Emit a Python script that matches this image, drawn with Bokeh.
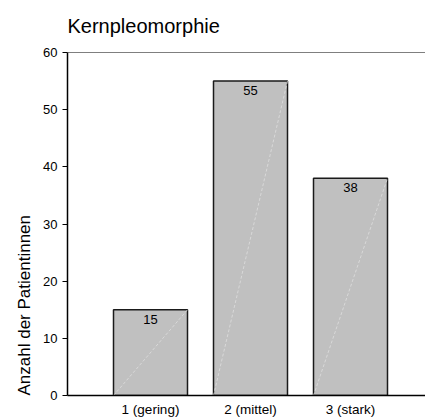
from bokeh.plotting import figure
from bokeh.models import ColumnDataSource, Range1d, FixedTicker, Span, LabelSet, Title
from bokeh.core.properties import value
from bokeh.embed import file_html
from bokeh.resources import INLINE

categories = ["1 (gering)", "2 (mittel)", "3 (stark)"]
positions = [1, 2, 3]
counts = [15, 55, 38]
y_ticks = [0, 10, 20, 30, 40, 50, 60]

FONT = "Liberation Sans"
BAR_W = 0.74
X_START, X_END = 0.17, 3.75
Y_MAX = 60

src = ColumnDataSource(dict(
    x=positions,
    top=counts,
    label=[str(c) for c in counts],
    x0=[p - BAR_W / 2 for p in positions],
    x1=[p + BAR_W / 2 for p in positions],
    y0=[0] * len(counts),
))

p = figure(width=425, height=419, output_backend="svg", toolbar_location=None,
           x_range=Range1d(X_START, X_END), y_range=Range1d(0, Y_MAX),
           min_border_left=67, min_border_right=0, min_border_top=52,
           min_border_bottom=23)

p.title.text = "Kernpleomorphie"
p.title.text_font = FONT
p.title.text_font_size = "20px"
p.title.text_font_style = "normal"
p.title.text_color = "black"
p.title.offset = 0
p.title.vertical_align = "top"
p.title.standoff = 27

# y-axis caption, starting at the bottom of the frame
p.add_layout(Title(text="Anzahl der Patientinnen", align="left", vertical_align="bottom",
                   offset=0, standoff=14, text_font=FONT, text_font_size="17px",
                   text_font_style="normal", text_color="black"), "left")

p.outline_line_color = None
p.xgrid.visible = False
p.ygrid.visible = False
p.background_fill_color = "white"
p.border_fill_color = "white"

p.vbar(x="x", top="top", width=BAR_W, source=src, fill_color="#c0c0c0",
       line_color="#1a1a1a", line_width=1.5)
# faint diagonal highlight inside each bar
p.segment(x0="x0", y0="y0", x1="x1", y1="top", source=src,
          line_color="#dedede", line_width=0.8, line_dash="3 2")

p.add_layout(LabelSet(x="x", y="top", text="label", source=src,
                      text_align="center", text_baseline="top", y_offset=-5,
                      text_font_size=value("13px"), text_font=value(FONT),
                      text_color="black"))

p.add_layout(Span(location=Y_MAX, dimension="width", line_color="black", line_width=1))

p.xaxis.ticker = FixedTicker(ticks=positions)
p.xaxis.major_label_overrides = {pos: c for pos, c in zip(positions, categories)}
p.xaxis.major_tick_line_color = None
p.xaxis.major_tick_out = 0
p.xaxis.major_tick_in = 0
p.xaxis.minor_tick_line_color = None
p.xaxis.axis_line_color = "black"
p.xaxis.axis_line_width = 1.5
p.xaxis.major_label_text_font = FONT
p.xaxis.major_label_text_font_size = "13.5px"
p.xaxis.major_label_text_color = "black"
p.xaxis.major_label_standoff = 6

p.yaxis.ticker = FixedTicker(ticks=y_ticks)
p.yaxis.minor_tick_line_color = None
p.yaxis.major_tick_out = 5
p.yaxis.major_tick_in = 0
p.yaxis.major_tick_line_color = "black"
p.yaxis.axis_line_color = "black"
p.yaxis.axis_line_width = 1.5
p.yaxis.major_label_text_font = FONT
p.yaxis.major_label_text_font_size = "13px"
p.yaxis.major_label_text_color = "black"
p.yaxis.major_label_standoff = 5

open("out.html", "w").write(file_html(p, INLINE))
